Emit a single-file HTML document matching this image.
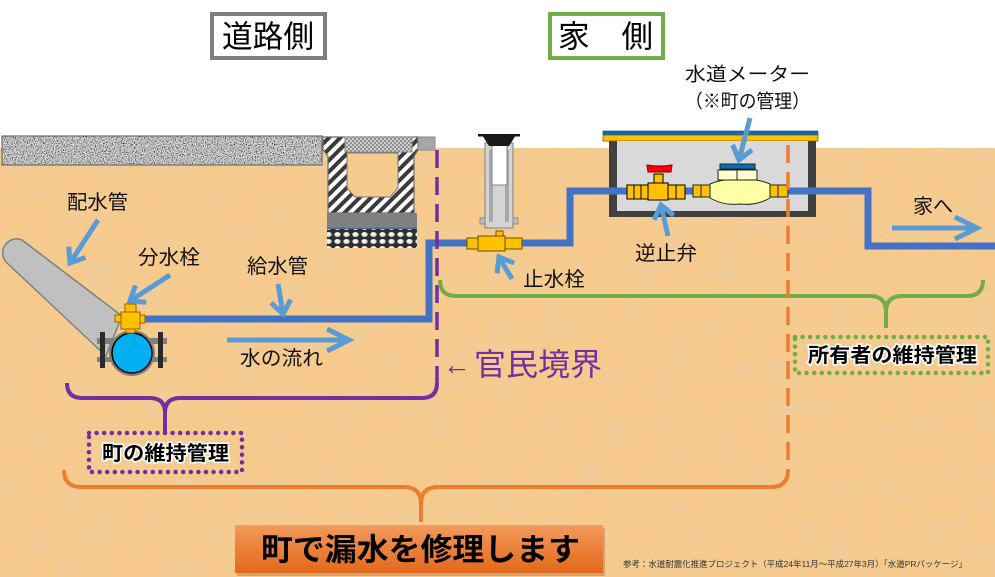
<!DOCTYPE html>
<html><head><meta charset="utf-8">
<style>
html,body{margin:0;padding:0;background:#fff;}
svg{display:block;}
text{font-family:"Liberation Sans","Noto Sans CJK JP",sans-serif;}
</style></head><body>
<svg width="995" height="577" viewBox="0 0 995 577" xmlns="http://www.w3.org/2000/svg">
<defs>
  <filter id="grain" x="0" y="0" width="1" height="1">
    <feTurbulence type="fractalNoise" baseFrequency="0.035 0.05" numOctaves="3" seed="7"/>
    <feColorMatrix type="matrix" values="0 0 0 0 0.85  0 0 0 0 0.62  0 0 0 0 0.36  1.6 0 0 0 -0.7"/>
  </filter>
  <filter id="rough" x="0" y="0" width="1" height="1">
    <feTurbulence type="fractalNoise" baseFrequency="0.9" numOctaves="1" seed="3"/>
    <feColorMatrix type="matrix" values="2.6 0 0 0 -0.75  2.6 0 0 0 -0.75  2.6 0 0 0 -0.75  0 0 0 0 0.8"/>
  </filter>
  <pattern id="hatch" width="8" height="8" patternUnits="userSpaceOnUse" patternTransform="rotate(45)">
    <rect width="8" height="8" fill="#fff"/>
    <rect width="4" height="8" fill="#3a3a3a"/>
  </pattern>
  <pattern id="checker" width="4" height="4" patternUnits="userSpaceOnUse">
    <rect width="4" height="4" fill="#cfcfcf"/>
    <rect width="2" height="2" fill="#8f8f8f"/>
    <rect x="2" y="2" width="2" height="2" fill="#8f8f8f"/>
  </pattern>
  <pattern id="gravel" width="9" height="7" patternUnits="userSpaceOnUse">
    <rect width="9" height="7" fill="#2e2e2e"/>
    <ellipse cx="4.5" cy="3.5" rx="3.2" ry="2.5" fill="#dcdcdc"/>
    <ellipse cx="4" cy="3" rx="1.6" ry="1.2" fill="#fff"/>
  </pattern>
  <linearGradient id="btn" x1="0" y1="0" x2="0" y2="1">
    <stop offset="0" stop-color="#f39a5c"/>
    <stop offset="1" stop-color="#e3681a"/>
  </linearGradient>
  <marker id="a1" viewBox="-20 -15 30 30" markerWidth="30" markerHeight="30" refX="0" refY="0" orient="auto" markerUnits="userSpaceOnUse" style="overflow:visible">
    <path d="M-13,-10 L0,0 L-13,10" fill="none" stroke="#5b9bd5" stroke-width="5"/>
  </marker>
  <marker id="a2" viewBox="-30 -15 40 30" markerWidth="40" markerHeight="30" refX="0" refY="0" orient="auto" markerUnits="userSpaceOnUse" style="overflow:visible">
    <path d="M-22,-11 L0,0 L-22,11" fill="none" stroke="#5b9bd5" stroke-width="5"/>
  </marker>
</defs>

<!-- background -->
<rect x="0" y="0" width="995" height="577" fill="#fff"/>
<rect x="0" y="148" width="995" height="429" fill="#f6ca8c"/>
<rect x="0" y="148" width="995" height="429" filter="url(#grain)"/>

<!-- titles -->
<rect x="212" y="14" width="113" height="44" fill="#fff" stroke="#7f7f7f" stroke-width="4"/>
<text x="222" y="37" font-size="31" dominant-baseline="central" textLength="92" lengthAdjust="spacingAndGlyphs" fill="#000">道路側</text>
<rect x="550" y="14" width="113" height="44" fill="#fff" stroke="#70ad47" stroke-width="4"/>
<text x="558" y="37" font-size="31" dominant-baseline="central" textLength="95" lengthAdjust="spacingAndGlyphs" fill="#000">家　側</text>

<text x="685" y="75" font-size="19" dominant-baseline="central" textLength="125" lengthAdjust="spacingAndGlyphs" fill="#111">水道メーター</text>
<text x="685" y="102" font-size="19" dominant-baseline="central" textLength="125" lengthAdjust="spacingAndGlyphs" fill="#111">（※町の管理）</text>

<!-- road -->
<rect x="2" y="136" width="320" height="29" fill="#959595"/>
<rect x="2" y="136" width="320" height="29" filter="url(#rough)"/>
<rect x="2" y="136" width="320" height="29" fill="none" stroke="#6f6f6f" stroke-width="1.2"/>

<!-- U ditch -->
<polygon points="323,137 418,137 418,150 414,156 414,213 328,213 328,156 323,150" fill="url(#hatch)" stroke="#6a6a6a" stroke-width="1.2"/>
<rect x="345" y="137" width="67" height="15" fill="url(#checker)" stroke="#888" stroke-width="1"/>
<polygon points="347,153 398,153 398,188 390,197 355,197 347,188" fill="#f6cb8e" stroke="#777" stroke-width="1"/>
<rect x="327" y="213" width="90" height="15" fill="#808080"/>
<line x1="327" y1="228.5" x2="417" y2="228.5" stroke="#4a6a9a" stroke-width="1.5"/>
<rect x="327" y="229" width="90" height="19" fill="url(#gravel)"/>
<rect x="418" y="137" width="17" height="13" fill="#a6a6a6" stroke="#888" stroke-width="1"/>

<!-- distribution pipe -->
<path d="M22 240 L122 316 L106 356 L6 262 A14 14 0 0 1 22 240 Z" fill="#c0c0c0" stroke="#7f7f7f" stroke-width="1.5"/>

<!-- meter box -->
<rect x="603" y="131" width="215" height="4" fill="#0070c0" stroke="#1f3f6f" stroke-width="0.6"/>
<rect x="603" y="135" width="215" height="6" fill="#ffc000" stroke="#7f6000" stroke-width="0.8"/>
<rect x="609" y="141" width="207" height="76" fill="#404040"/>
<rect x="617" y="141" width="191" height="70" fill="#d9d9d9"/>

<!-- supply pipe -->
<path d="M143 319 H429 V243 H570 V191 H868 V246 H995" fill="none" stroke="#4472c4" stroke-width="7"/>

<!-- key box over stop valve -->
<rect x="485" y="143" width="28" height="85" fill="#d4d4d4" stroke="#808080" stroke-width="1"/>
<rect x="489" y="150" width="4" height="72" fill="#a8a8a8"/>
<rect x="505" y="150" width="4" height="72" fill="#a8a8a8"/>
<rect x="492" y="137" width="15" height="48" fill="#fff" stroke="#808080" stroke-width="1"/>
<path d="M478 134 H520 V136.5 H515 L509 146 H489 L483 136.5 H478 Z" fill="#1a1a1a"/>
<rect x="480" y="218" width="5" height="6" fill="#bdbdbd" stroke="#808080" stroke-width="0.8"/>
<rect x="513" y="218" width="5" height="6" fill="#bdbdbd" stroke="#808080" stroke-width="0.8"/>

<!-- stop valve -->
<g fill="#ffc000" stroke="#6b5000" stroke-width="1">
  <rect x="467" y="238" width="11" height="11"/>
  <rect x="478" y="236" width="27" height="15"/>
  <rect x="505" y="238" width="17" height="11"/>
  <rect x="496" y="231" width="7" height="5"/>
</g>

<!-- saddle + main pipe section -->
<rect x="97" y="338" width="70" height="6" fill="#7f7f7f"/>
<rect x="97" y="357" width="70" height="5" fill="#7f7f7f"/>
<rect x="100" y="332" width="5" height="36" fill="#2a2a2a"/>
<rect x="158" y="332" width="5" height="36" fill="#2a2a2a"/>
<circle cx="132" cy="353" r="23" fill="#808080"/>
<circle cx="132" cy="353" r="20" fill="#00b0f0" stroke="#000" stroke-width="1.5"/>
<g fill="#ffc000" stroke="#8a6a00" stroke-width="1">
  <rect x="121" y="312" width="19" height="17"/>
  <rect x="125" y="304" width="11" height="8"/>
  <rect x="115" y="315" width="6" height="7"/>
  <rect x="140" y="315" width="5" height="8"/>
  <rect x="126" y="329" width="9" height="4"/>
</g>

<!-- check valve -->
<g stroke="#000" stroke-width="1">
  <rect x="627" y="185" width="21" height="14" fill="#ffc000"/>
  <line x1="634" y1="185" x2="634" y2="199"/>
  <line x1="641" y1="185" x2="641" y2="199"/>
  <rect x="648" y="183" width="20" height="17" fill="#ffc000"/>
  <rect x="668" y="185" width="17" height="14" fill="#ffc000"/>
  <line x1="676" y1="185" x2="676" y2="199"/>
  <rect x="654" y="174" width="9" height="9" fill="#ffc000"/>
  <path d="M647 165 Q659 167 672 165 L671 172 L648 172 Z" fill="#ff0000" stroke="#800000"/>
</g>

<!-- water meter -->
<g stroke="#222" stroke-width="1">
  <rect x="693" y="185" width="17" height="12" fill="#ffc000"/>
  <line x1="701" y1="185" x2="701" y2="197"/>
  <path d="M710 184 Q724 178 740 180 Q756 178 770 184 L770 198 Q756 206 740 204 Q724 206 710 198 Z" fill="#ffffa6"/>
  <rect x="718" y="170" width="39" height="10" fill="#ffffcc"/>
  <line x1="737" y1="170" x2="737" y2="180"/>
  <rect x="720" y="164" width="35" height="5" fill="#0070c0"/>
  <rect x="770" y="185" width="18" height="12" fill="#ffc000"/>
  <line x1="778" y1="185" x2="778" y2="197"/>
</g>

<!-- boundary dashed lines -->
<line x1="437" y1="150" x2="437" y2="384" stroke="#7030a0" stroke-width="3.5" stroke-dasharray="18 9"/>
<path d="M440 280 Q440 296 456 296 H870 Q886 296 886 312 Q886 296 902 296 H967 Q983 296 983 280 M886 310 V328" fill="none" stroke="#70ad47" stroke-width="4"/>
<line x1="788" y1="145" x2="788" y2="472" stroke="#ed7d31" stroke-width="3.5" stroke-dasharray="18 9"/>

<!-- braces -->
<path d="M67 383 Q67 398 82 398 H150 Q165 398 165 413 Q165 398 180 398 H422 Q437 398 437 383 M165 411 V432" fill="none" stroke="#7030a0" stroke-width="4"/>
<path d="M64 470 Q64 487 81 487 H404 Q421 487 421 504 Q421 487 438 487 H771 Q788 487 788 470 M421 502 V522" fill="none" stroke="#ed7d31" stroke-width="4"/>

<!-- arrows -->
<g stroke="#5b9bd5" stroke-width="5" fill="none">
  <line x1="98" y1="220" x2="70" y2="263" marker-end="url(#a1)"/>
  <line x1="170" y1="275" x2="130" y2="301" marker-end="url(#a1)"/>
  <line x1="278" y1="284" x2="283" y2="314" marker-end="url(#a1)"/>
  <line x1="227" y1="340" x2="349" y2="340" marker-end="url(#a2)"/>
  <line x1="512" y1="279" x2="499" y2="257" marker-end="url(#a1)"/>
  <line x1="668" y1="236" x2="661" y2="205" marker-end="url(#a1)"/>
  <line x1="750" y1="118" x2="739" y2="160" marker-end="url(#a1)"/>
  <line x1="892" y1="228" x2="977" y2="228" marker-end="url(#a2)"/>
</g>

<!-- labels -->
<g fill="#111" font-size="20" dominant-baseline="central">
  <text x="67" y="203" textLength="61" lengthAdjust="spacingAndGlyphs">配水管</text>
  <text x="138" y="258" textLength="62" lengthAdjust="spacingAndGlyphs">分水栓</text>
  <text x="247" y="267" textLength="61" lengthAdjust="spacingAndGlyphs">給水管</text>
  <text x="240" y="359" textLength="83" lengthAdjust="spacingAndGlyphs">水の流れ</text>
  <text x="523" y="280" textLength="62" lengthAdjust="spacingAndGlyphs">止水栓</text>
  <text x="635" y="254" textLength="62" lengthAdjust="spacingAndGlyphs">逆止弁</text>
  <text x="913" y="207" textLength="40" lengthAdjust="spacingAndGlyphs">家へ</text>
</g>
<text x="443" y="365" font-size="30" dominant-baseline="central" fill="#7030a0" textLength="28" lengthAdjust="spacingAndGlyphs">←</text>
<text x="474" y="365" font-size="31" dominant-baseline="central" fill="#7030a0" textLength="128" lengthAdjust="spacingAndGlyphs">官民境界</text>

<!-- dotted boxes -->
<rect x="89" y="433" width="153" height="39" fill="none" stroke="#7030a0" stroke-width="4.5" stroke-dasharray="0 7.6" stroke-linecap="round"/>
<text x="102" y="454" font-size="20" font-weight="bold" dominant-baseline="central" textLength="127" lengthAdjust="spacingAndGlyphs" fill="#000" stroke="#fff" stroke-width="3" paint-order="stroke">町の維持管理</text>
<rect x="795" y="337" width="193" height="36" fill="none" stroke="#70ad47" stroke-width="4.5" stroke-dasharray="0 7.6" stroke-linecap="round"/>
<text x="808" y="356" font-size="20" font-weight="bold" dominant-baseline="central" textLength="169" lengthAdjust="spacingAndGlyphs" fill="#000" stroke="#fff" stroke-width="3" paint-order="stroke">所有者の維持管理</text>

<!-- button -->
<rect x="237" y="528" width="368" height="48" fill="#8a5a3a" opacity="0.35"/>
<rect x="235" y="525" width="368" height="48" fill="url(#btn)"/>
<text x="261" y="550" font-size="31" font-weight="bold" dominant-baseline="central" textLength="319" lengthAdjust="spacingAndGlyphs" fill="#000">町で漏水を修理します</text>

<!-- citation -->
<text x="623" y="564" font-size="8.5" dominant-baseline="central" textLength="344" lengthAdjust="spacingAndGlyphs" fill="#333">参考：水道耐震化推進プロジェクト（平成24年11月～平成27年3月）「水道PRパッケージ」</text>
</svg>
</body></html>
